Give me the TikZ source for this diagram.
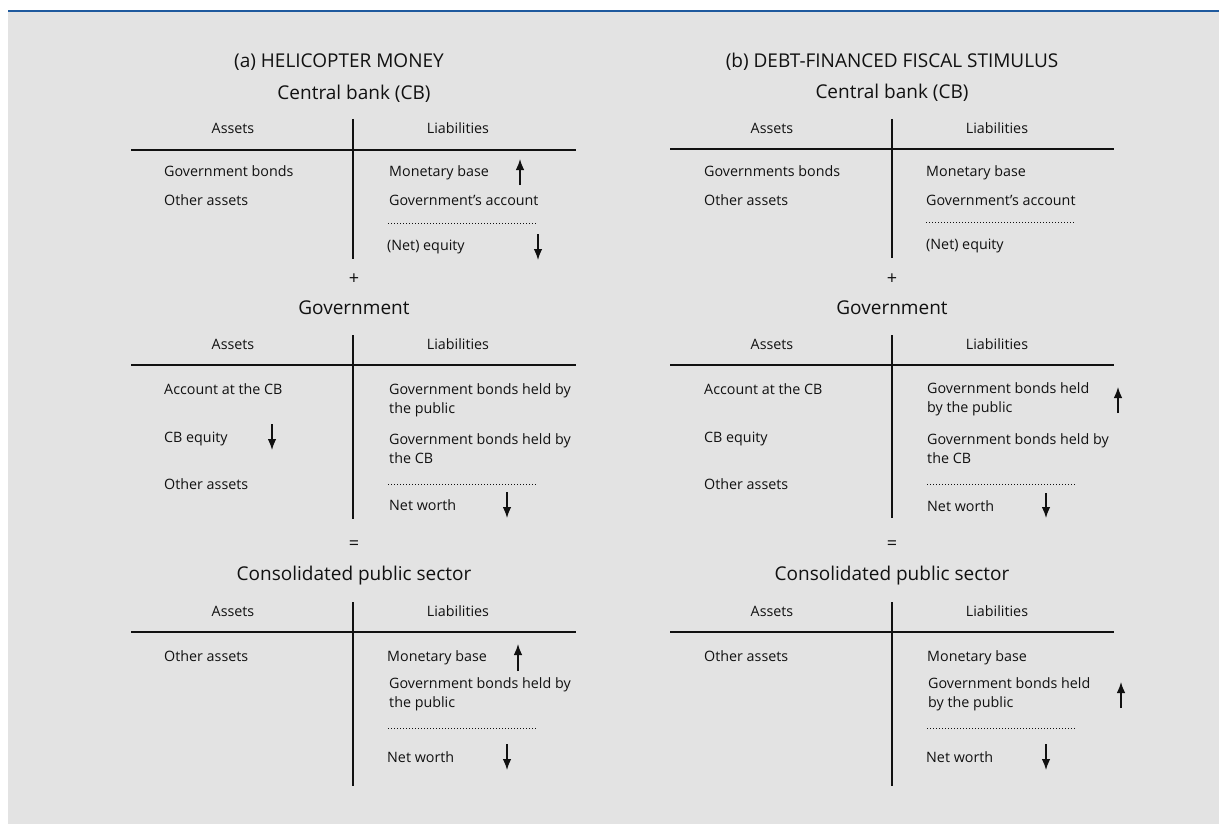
\documentclass[tikz,border=0pt]{standalone}
\usepackage{fontspec}
\setmainfont{Open Sans}
\usetikzlibrary{arrows.meta}
\definecolor{bg}{HTML}{E3E3E3}
\definecolor{rulecol}{HTML}{1F5A9E}
\definecolor{ink}{HTML}{111111}
\begin{document}
\begin{tikzpicture}[x=1pt,y=-1pt,
  every node/.style={text=ink,inner sep=0pt},
  headtxt/.style={font=\fontsize{19}{23}\selectfont,anchor=base},
  titletxt/.style={font=\fontsize{19}{23}\selectfont,anchor=base},
  colh/.style={font=\fontsize{14.3}{18.5}\selectfont,anchor=base},
  item/.style={font=\fontsize{14.3}{18.5}\selectfont,anchor=base west,align=left},
  opsym/.style={font=\fontsize{18}{20}\selectfont,anchor=center},
  tline/.style={draw=ink,line width=1.1pt},
  dotline/.style={draw=ink,line width=0.8pt,dash pattern=on 0.9pt off 2.1pt},
  chg/.style={draw=ink,line width=1.25pt,-{Latex[length=11pt,width=8.5pt]}}
]
\useasboundingbox (0,0) rectangle (1220,824);
\fill[bg] (8,10) rectangle (1219,824);
\draw[rulecol,line width=2.6pt] (8,11) -- (1219,11);

% ================= (a) =================
\begin{scope}[name prefix=a-]
\node[headtxt] (head) at (339,68) {(a) HELICOPTER MONEY};
% Central bank
\node[titletxt] (cbt) at (354,99.5) {Central bank (CB)};
\node[colh] (cba) at (233,134) {Assets};
\node[colh] (cbl) at (458,134) {Liabilities};
\coordinate (cbvt) at (353,119); \coordinate (cbvb) at (353,259);
\coordinate (cbhl) at (131,150); \coordinate (cbhr) at (576,150);
\draw[tline] (cbvt) -- (cbvb);
\draw[tline] (cbhl) -- (cbhr);
\node[item] (cb1) at (164,176) {Government bonds};
\node[item] (cb2) at (164,205) {Other assets};
\node[item] (cb3) at (389,176) {Monetary base};
\node[item] (cb4) at (389,205) {Government’s account};
\coordinate (cbdl) at (388,223); \coordinate (cbdr) at (537,223);
\draw[dotline] (cbdl) -- (cbdr);
\node[item] (cb5) at (387,250) {(Net) equity};
\coordinate (cbu1) at (520,185); \coordinate (cbu2) at (520,159);
\draw[chg] (cbu1) -- (cbu2);
\coordinate (cbd1) at (538,234); \coordinate (cbd2) at (538,260);
\draw[chg] (cbd1) -- (cbd2);
\node[opsym] (plus) at (354,279) {+};
% Government
\node[titletxt] (gt) at (354,314) {Government};
\node[colh] (ga) at (233,349) {Assets};
\node[colh] (gl) at (458,349) {Liabilities};
\coordinate (gvt) at (353,335); \coordinate (gvb) at (353,519);
\coordinate (ghl) at (131,365); \coordinate (ghr) at (576,365);
\draw[tline] (gvt) -- (gvb);
\draw[tline] (ghl) -- (ghr);
\node[item] (g1) at (164,394) {Account at the CB};
\node[item] (g2) at (164,442) {CB equity};
\node[item] (g3) at (164,489) {Other assets};
\node[item] (g4) at (389,413) {Government bonds held by\\the public};
\node[item] (g5) at (389,463) {Government bonds held by\\the CB};
\coordinate (gdl) at (388,484); \coordinate (gdr) at (537,484);
\draw[dotline] (gdl) -- (gdr);
\node[item] (g6) at (389,510) {Net worth};
\coordinate (gd1) at (272,424); \coordinate (gd2) at (272,450);
\draw[chg] (gd1) -- (gd2);
\coordinate (gd3) at (507,492); \coordinate (gd4) at (507,518);
\draw[chg] (gd3) -- (gd4);
\node[opsym] (eq) at (354,545) {=};
% Consolidated
\node[titletxt] (ct) at (354,580) {Consolidated public sector};
\node[colh] (ca) at (233,616) {Assets};
\node[colh] (cl) at (458,616) {Liabilities};
\coordinate (cvt) at (353,602); \coordinate (cvb) at (353,786);
\coordinate (chl) at (131,632); \coordinate (chr) at (576,632);
\draw[tline] (cvt) -- (cvb);
\draw[tline] (chl) -- (chr);
\node[item] (c1) at (164,661) {Other assets};
\node[item] (c2) at (387,661) {Monetary base};
\node[item] (c3) at (389,707) {Government bonds held by\\the public};
\coordinate (cdl) at (388,728); \coordinate (cdr) at (537,728);
\draw[dotline] (cdl) -- (cdr);
\node[item] (c4) at (387,762) {Net worth};
\coordinate (cu1) at (518,671); \coordinate (cu2) at (518,644);
\draw[chg] (cu1) -- (cu2);
\coordinate (cd1) at (507,744); \coordinate (cd2) at (507,770);
\draw[chg] (cd1) -- (cd2);
\end{scope}

% ================= (b) =================
\begin{scope}[name prefix=b-]
\node[headtxt] (head) at (892,68) {(b) DEBT-FINANCED FISCAL STIMULUS};
% Central bank
\node[titletxt] (cbt) at (892,99) {Central bank (CB)};
\node[colh] (cba) at (772,134) {Assets};
\node[colh] (cbl) at (997,134) {Liabilities};
\coordinate (cbvt) at (892,119); \coordinate (cbvb) at (892,258);
\coordinate (cbhl) at (670,149); \coordinate (cbhr) at (1114,149);
\draw[tline] (cbvt) -- (cbvb);
\draw[tline] (cbhl) -- (cbhr);
\node[item] (cb1) at (704,176) {Governments bonds};
\node[item] (cb2) at (704,205) {Other assets};
\node[item] (cb3) at (926,176) {Monetary base};
\node[item] (cb4) at (926,205) {Government’s account};
\coordinate (cbdl) at (926,222); \coordinate (cbdr) at (1074,222);
\draw[dotline] (cbdl) -- (cbdr);
\node[item] (cb5) at (926,249) {(Net) equity};
\node[opsym] (plus) at (892,279) {+};
% Government
\node[titletxt] (gt) at (892,314) {Government};
\node[colh] (ga) at (772,349) {Assets};
\node[colh] (gl) at (997,349) {Liabilities};
\coordinate (gvt) at (892,335); \coordinate (gvb) at (892,518);
\coordinate (ghl) at (670,365); \coordinate (ghr) at (1114,365);
\draw[tline] (gvt) -- (gvb);
\draw[tline] (ghl) -- (ghr);
\node[item] (g1) at (704,394) {Account at the CB};
\node[item] (g2) at (704,442) {CB equity};
\node[item] (g3) at (704,489) {Other assets};
\node[item] (g4) at (927,412) {Government bonds held\\by the public};
\node[item] (g5) at (927,463) {Government bonds held by\\the CB};
\coordinate (gdl) at (927,484); \coordinate (gdr) at (1075,484);
\draw[dotline] (gdl) -- (gdr);
\node[item] (g6) at (927,511) {Net worth};
\coordinate (gu1) at (1118,413); \coordinate (gu2) at (1118,387);
\draw[chg] (gu1) -- (gu2);
\coordinate (gd3) at (1046,493); \coordinate (gd4) at (1046,518);
\draw[chg] (gd3) -- (gd4);
\node[opsym] (eq) at (892,545) {=};
% Consolidated
\node[titletxt] (ct) at (892,580) {Consolidated public sector};
\node[colh] (ca) at (772,616) {Assets};
\node[colh] (cl) at (997,616) {Liabilities};
\coordinate (cvt) at (892,602); \coordinate (cvb) at (892,786);
\coordinate (chl) at (670,632); \coordinate (chr) at (1114,632);
\draw[tline] (cvt) -- (cvb);
\draw[tline] (chl) -- (chr);
\node[item] (c1) at (704,661) {Other assets};
\node[item] (c2) at (927,661) {Monetary base};
\node[item] (c3) at (928,707) {Government bonds held\\by the public};
\coordinate (cdl) at (927,728); \coordinate (cdr) at (1075,728);
\draw[dotline] (cdl) -- (cdr);
\node[item] (c4) at (926,762) {Net worth};
\coordinate (cu1) at (1121,708); \coordinate (cu2) at (1121,682);
\draw[chg] (cu1) -- (cu2);
\coordinate (cd1) at (1046,744); \coordinate (cd2) at (1046,770);
\draw[chg] (cd1) -- (cd2);
\end{scope}
\end{tikzpicture}
\end{document}
